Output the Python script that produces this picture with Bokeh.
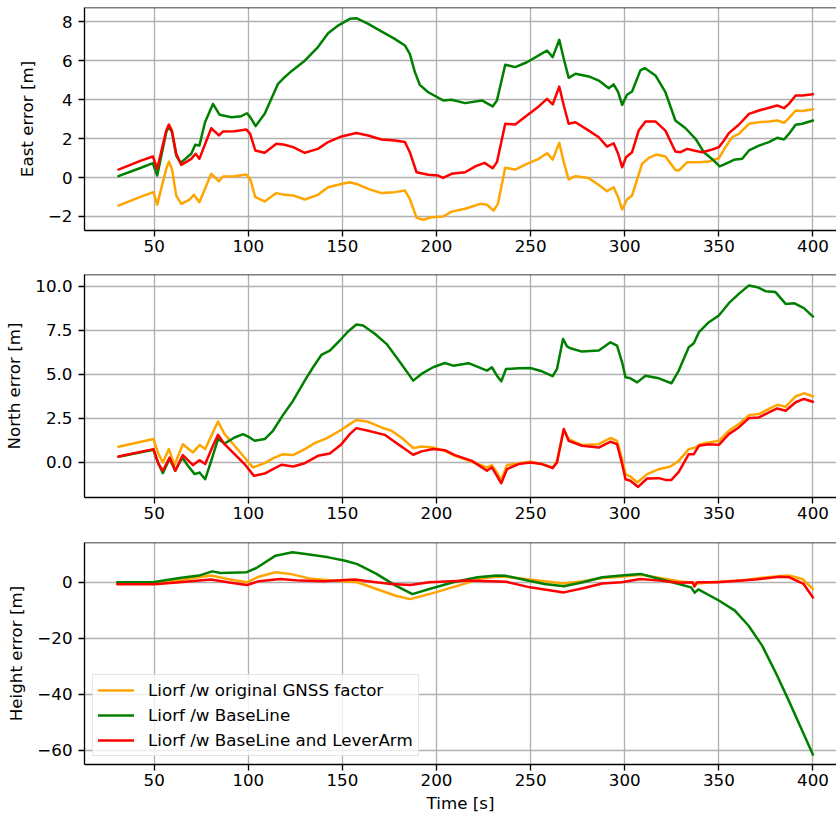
from bokeh.plotting import figure
from bokeh.layouts import column
from bokeh.models import Range1d, FixedTicker, Span, Legend, LegendItem, NumeralTickFormatter
from bokeh.embed import file_html
from bokeh.resources import INLINE

# ---------------- data ----------------
x_ticks = [50, 100, 150, 200, 250, 300, 350, 400]
series_labels = ["Liorf /w original GNSS factor", "Liorf /w BaseLine", "Liorf /w BaseLine and LeverArm"]
series_colors = ["#ffa500", "#008000", "#ff0000"]

# East error
east_orig_t = [31, 43, 49.6, 51.6, 56.4, 57.8, 59.4, 61.7, 64.4, 68.8,
               71.1, 74, 80.3, 84.4, 86.5, 92.7, 98.9, 101, 103.7, 108.7,
               114.9, 119.3, 123.8, 130, 137, 142.4, 149.5, 153.9, 157.4, 163.7,
               170.7, 177.8, 183.2, 185.8, 189.4, 192.9, 197.3, 203.5, 208, 215.2,
               223.2, 226.8, 230.3, 232.6, 236.5, 241.8, 248, 254.3, 258.7, 261.7,
               265.2, 267.6, 270.2, 273.8, 280.9, 286.2, 290.6, 294.1, 296.5, 298.6,
               301.2, 303.9, 309.2, 312.8, 316.7, 321.6, 326.9, 328.7, 333.2, 339.4,
               344.7, 350, 353.5, 357.1, 360.6, 366, 371.3, 376.6, 381, 384.6,
               387.2, 390.8, 394.3, 400]
east_orig = [-1.44, -0.98, -0.75, -1.39, 0.45, 0.82, 0.45, -0.93, -1.35, -1.13,
             -0.89, -1.27, 0.19, -0.19, 0.05, 0.07, 0.15, -0.07, -1.01, -1.23,
             -0.80, -0.89, -0.92, -1.13, -0.89, -0.50, -0.33, -0.24, -0.33, -0.58,
             -0.80, -0.75, -0.67, -1.10, -2.07, -2.17, -2.04, -2.00, -1.75, -1.60,
             -1.35, -1.40, -1.70, -1.35, 0.50, 0.41, 0.70, 0.96, 1.25, 0.92,
             1.78, 0.79, -0.10, 0.07, -0.03, -0.38, -0.70, -0.50, -1.01, -1.64,
             -1.13, -0.92, 0.70, 1.01, 1.18, 1.08, 0.39, 0.36, 0.79, 0.79,
             0.82, 0.99, 1.56, 2.07, 2.24, 2.76, 2.84, 2.88, 2.93, 2.81,
             3.05, 3.44, 3.42, 3.51]

east_base_t = [31, 43, 49.3, 51.6, 56.4, 57.8, 59.4, 61.7, 64, 69.7,
               71.8, 74, 77, 81.2, 84.8, 91, 96.3, 99.3, 101, 103.9,
               108.7, 115.8, 119.3, 122.9, 130, 137, 142.4, 147.7, 153.9, 157.4,
               163.7, 170.7, 177.8, 183.2, 185.8, 188.5, 191.1, 195.6, 203.5, 208,
               215.2, 224.1, 229.8, 232.1, 236.5, 241.8, 248, 254.3, 258.7, 261.7,
               265.2, 267.6, 270.2, 273.8, 280.9, 286.2, 291.5, 294.1, 296.5, 298.6,
               301.2, 303.9, 308.3, 310.6, 316.3, 321.6, 326.9, 332.3, 337.6, 342,
               347.3, 350.4, 353.5, 358, 362.4, 366, 371.3, 376.6, 381, 384.6,
               387.2, 390.8, 394.3, 400]
east_base = [0.07, 0.50, 0.74, 0.10, 2.33, 2.64, 2.33, 1.13, 0.75, 1.22,
             1.68, 1.64, 2.84, 3.78, 3.22, 3.10, 3.15, 3.30, 3.10, 2.64,
             3.27, 4.81, 5.15, 5.46, 6.00, 6.70, 7.41, 7.80, 8.15, 8.18,
             7.89, 7.50, 7.12, 6.78, 6.35, 5.41, 4.76, 4.38, 3.96, 3.99,
             3.82, 3.96, 3.65, 3.96, 5.79, 5.67, 5.92, 6.27, 6.52, 6.18,
             7.07, 6.10, 5.12, 5.33, 5.19, 4.98, 4.59, 4.78, 4.38, 3.73,
             4.25, 4.42, 5.50, 5.62, 5.24, 4.38, 2.93, 2.53, 1.99, 1.30,
             0.87, 0.57, 0.70, 0.91, 0.96, 1.39, 1.64, 1.82, 2.04, 1.95,
             2.24, 2.71, 2.76, 2.93]

east_lever_t = [31, 43, 49.3, 51.6, 56.4, 57.8, 59.4, 61.7, 64.4, 69.7,
                72, 74, 80.3, 84.4, 86.5, 92.7, 98.9, 101, 103.7, 108.7,
                114.9, 119.3, 123.8, 130, 137, 142.4, 149.5, 157.4, 163.7, 170.7,
                177.8, 183.2, 185.8, 189.4, 195.6, 200.9, 203.5, 208, 215.2, 220.6,
                225.5, 229.8, 232.1, 236.5, 241.8, 248, 254.3, 258.7, 261.7, 265.2,
                267.6, 270.2, 273.8, 280.9, 286.2, 290.6, 294.1, 296.5, 298.6, 300.7,
                303.9, 307.4, 311, 316.3, 321.6, 326.9, 329.6, 333.2, 336.7, 341.1,
                346.5, 350, 352.7, 355.3, 360.6, 366, 371.3, 376.6, 381, 384.6,
                387.2, 390.8, 394.3, 400]
east_lever = [0.41, 0.87, 1.08, 0.45, 2.41, 2.72, 2.41, 1.22, 0.65, 0.96,
              1.22, 0.96, 2.53, 2.16, 2.36, 2.38, 2.47, 2.24, 1.39, 1.27,
              1.73, 1.68, 1.56, 1.27, 1.47, 1.82, 2.11, 2.29, 2.16, 1.95,
              1.90, 1.82, 1.30, 0.27, 0.14, 0.10, -0.02, 0.19, 0.27, 0.57,
              0.75, 0.48, 0.79, 2.76, 2.72, 3.18, 3.65, 4.04, 3.75, 4.67,
              3.70, 2.76, 2.84, 2.41, 2.07, 1.59, 1.76, 1.22, 0.53, 1.04,
              1.30, 2.41, 2.88, 2.88, 2.41, 1.34, 1.30, 1.47, 1.39, 1.30,
              1.44, 1.56, 1.90, 2.28, 2.71, 3.27, 3.44, 3.58, 3.70, 3.56,
              3.78, 4.21, 4.21, 4.28]

# North error
north_orig_t = [31, 49.6, 52.3, 54.6, 57.8, 60.8, 65.2, 70.6, 74.1, 77.1,
                81.2, 83.9, 87.4, 92.7, 98, 102.5, 108.7, 113.1, 118.4, 123.8,
                130, 135.3, 141.5, 149.5, 153.9, 157.4, 163.7, 170.7, 176.1, 182.3,
                187.6, 192, 198.2, 204.4, 209.8, 218.8, 226.8, 229.4, 232.1, 234.4,
                237.4, 243.6, 249.8, 256, 261.7, 264, 267.6, 270.2, 277.3, 286.2,
                292.4, 295.9, 298.6, 300.4, 303, 306.6, 311.9, 318.1, 324.3, 328.7,
                334, 337.6, 340.2, 344.7, 350, 355.3, 360.6, 366, 371.3, 376.6,
                381, 385.5, 390.8, 395.2, 400]
north_orig = [0.89, 1.33, 0.47, 0.00, 0.76, -0.15, 1.04, 0.57, 0.99, 0.76,
              1.71, 2.33, 1.61, 0.95, 0.28, -0.28, -0.04, 0.23, 0.47, 0.42,
              0.76, 1.10, 1.37, 1.86, 2.18, 2.41, 2.31, 1.99, 1.80, 1.33,
              0.82, 0.91, 0.85, 0.66, 0.38, 0.04, -0.28, -0.15, -0.57, -0.99,
              -0.15, -0.04, 0.04, -0.09, -0.28, 0.09, 1.86, 1.33, 0.99, 1.04,
              1.39, 1.23, 0.19, -0.66, -0.80, -1.14, -0.66, -0.38, -0.23, 0.09,
              0.76, 0.85, 1.04, 1.14, 1.23, 1.80, 2.18, 2.69, 2.75, 3.04,
              3.28, 3.17, 3.76, 3.93, 3.76]

north_base_t = [31, 49.6, 52, 54.6, 58.2, 61.2, 64.9, 67.9, 71.5, 74.1,
                77.1, 80.3, 83.9, 87.4, 92.7, 97.2, 100.7, 103.4, 108.7, 113.1,
                118.4, 123.8, 130, 134.4, 138.8, 143.3, 148.6, 153, 157.4, 161,
                167.2, 173.4, 178.7, 183.2, 187.6, 192, 198.2, 204.4, 208.9, 217,
                226.8, 229.4, 232.1, 234.4, 236.9, 243.6, 249.8, 256, 261.7, 264,
                267.2, 269.3, 271.1, 277.3, 286.2, 292.4, 295.9, 298.6, 300.4, 303,
                306.6, 311, 318.1, 324.8, 328.7, 334, 336.7, 339.4, 344.7, 350,
                355.3, 360.6, 366, 370.4, 374.8, 380.1, 385.5, 389.9, 395.2, 400]
north_base = [0.32, 0.72, 0.00, -0.61, 0.23, -0.47, 0.28, -0.19, -0.66, -0.57,
              -0.95, 0.09, 1.33, 1.08, 1.42, 1.61, 1.42, 1.23, 1.33, 1.80,
              2.69, 3.51, 4.65, 5.41, 6.11, 6.36, 6.93, 7.44, 7.84, 7.78,
              7.31, 6.74, 5.98, 5.31, 4.65, 5.03, 5.41, 5.65, 5.50, 5.64,
              5.22, 5.41, 4.93, 4.61, 5.31, 5.35, 5.37, 5.18, 4.90, 5.31,
              7.02, 6.60, 6.49, 6.30, 6.36, 6.83, 6.64, 5.69, 4.84, 4.78,
              4.55, 4.93, 4.78, 4.50, 5.22, 6.55, 6.77, 7.40, 7.97, 8.35,
              9.05, 9.58, 10.06, 9.96, 9.73, 9.68, 9.01, 9.05, 8.77, 8.29]

north_lever_t = [31, 49.6, 52.3, 54.6, 58.2, 61.2, 65.2, 70.6, 74.1, 77.1,
                 81.2, 83.9, 87.4, 92.7, 98, 103, 108.7, 113.1, 117.6, 123.8,
                 130, 137, 143.3, 149.5, 153.9, 157.4, 163.7, 172.5, 179.6, 187.6,
                 192, 198.2, 204.4, 209.8, 218.8, 226.8, 229.4, 232.1, 234.4, 237.4,
                 243.6, 249.8, 256, 261.7, 264, 267.6, 270.2, 277.3, 286.2, 292.4,
                 295.9, 298.6, 300.4, 303, 307.1, 311.9, 318.1, 321.6, 324.8, 328.7,
                 334, 336.7, 339.4, 344.7, 350, 355.3, 360.6, 366, 371.3, 376.6,
                 381, 385.5, 390.8, 395.2, 400]
north_lever = [0.34, 0.76, -0.09, -0.47, 0.28, -0.47, 0.42, -0.15, 0.13, -0.09,
               0.95, 1.57, 1.04, 0.47, -0.09, -0.76, -0.63, -0.38, -0.13, -0.23,
               -0.04, 0.38, 0.51, 1.04, 1.61, 1.95, 1.80, 1.57, 1.04, 0.44,
               0.63, 0.76, 0.70, 0.42, 0.09, -0.47, -0.28, -0.76, -1.18, -0.38,
               -0.09, 0.00, -0.09, -0.32, 0.00, 1.90, 1.23, 0.95, 0.85, 1.18,
               1.04, -0.09, -0.95, -1.04, -1.39, -0.91, -0.89, -0.99, -0.99, -0.53,
               0.47, 0.47, 0.95, 1.04, 1.00, 1.61, 1.99, 2.52, 2.56, 2.85,
               3.07, 2.94, 3.42, 3.61, 3.45]

# Height error
height_orig_t = [30.4, 50, 63.5, 80.1, 89, 99.2, 105.6, 114.5, 122.2, 132.4,
                 145.2, 157.9, 168.1, 178.3, 186, 196.2, 211.5, 224.2, 234.4, 247.2,
                 257.4, 267.6, 277.8, 288, 298.2, 308.4, 318.6, 328.8, 339, 349.2,
                 362, 369.6, 380, 387.2, 394.3, 400]
height_orig = [-0.4, -0.4, 0.8, 2.4, 1.2, 0.0, 2.0, 3.6, 3.0, 1.4,
               0.6, 0.0, -2.4, -4.8, -6.0, -4.2, -1.2, 1.4, 2.1, 1.2,
               0.4, -0.4, 0.4, 1.5, 2.0, 2.7, 1.5, 0.4, -0.4, 0.2,
               0.6, 1.4, 2.1, 2.4, 1.2, -2.4]

height_base_t = [30.4, 50, 63.5, 73.7, 80.9, 85.2, 99.2, 104.3, 114.5, 123.5,
                 132.4, 142.6, 151.5, 157.9, 168.1, 178.3, 187.2, 196.2, 208.9, 221.7,
                 231.9, 237, 247.2, 257.4, 267.6, 277.8, 288, 298.2, 308.4, 318.6,
                 328.8, 335.2, 337.2, 339.1, 350, 358.5, 365.8, 373, 380.1, 387.2,
                 394.3, 400]
height_base = [0.0, 0.1, 1.5, 2.4, 3.9, 3.3, 3.6, 5.1, 9.5, 10.7,
               9.9, 8.9, 7.7, 6.5, 3.0, -1.2, -4.2, -2.4, 0.0, 1.8,
               2.4, 2.3, 0.8, -0.6, -1.4, 0.0, 1.8, 2.4, 3.0, 1.2,
               -0.6, -1.8, -3.7, -2.5, -6.5, -10.1, -15.5, -22.6, -32.1, -42.3,
               -53.0, -61.5]

height_lever_t = [30.4, 50, 63.5, 80.1, 89, 99.2, 105.6, 117, 127.3, 140,
                  156.6, 165.6, 175.8, 186, 196.2, 216.6, 237, 249.7, 267.6, 277.8,
                  288, 298.2, 308.4, 318.6, 328.8, 336, 337, 338.5, 349.2, 369.6,
                  382.4, 387.5, 395, 400]
height_lever = [-0.7, -0.7, 0.0, 1.0, 0.0, -1.0, 0.4, 1.2, 0.6, 0.4,
                1.0, 0.2, -0.6, -1.0, 0.0, 0.6, 0.2, -1.8, -3.6, -2.1,
                -0.4, 0.0, 1.2, 0.6, -0.2, 0.0, -1.5, 0.0, 0.0, 1.0,
                2.0, 1.8, -0.6, -5.4]

east_ticks = [-2, 0, 2, 4, 6, 8]
north_ticks = [0, 2.5, 5, 7.5, 10]
height_ticks = [-60, -40, -20, 0]

# ---------------- styling ----------------
FONT = "DejaVu Sans"
FS = "16.7px"
SPINE = 1.33
FIG_W = 836


def make_fig(height, b_top, b_bottom, y0, y1, yticks, ylabel):
    p = figure(width=FIG_W, height=height, output_backend="svg", toolbar_location=None,
               x_range=Range1d(12.97, 412.5), y_range=Range1d(y0, y1),
               min_border_left=84, min_border_right=0,
               min_border_top=b_top, min_border_bottom=b_bottom)
    p.outline_line_color = None
    p.background_fill_color = "white"
    p.border_fill_color = "white"
    for ax in (p.xaxis[0], p.yaxis[0]):
        ax.axis_line_color = "black"
        ax.axis_line_width = SPINE
        ax.major_tick_line_color = "black"
        ax.major_tick_line_width = SPINE
        ax.major_tick_out = 6
        ax.major_tick_in = 0
        ax.minor_tick_line_color = None
        ax.major_label_text_font = FONT
        ax.major_label_text_font_size = FS
        ax.major_label_text_color = "black"
        ax.axis_label_text_font = FONT
        ax.axis_label_text_font_size = FS
        ax.axis_label_text_font_style = "normal"
        ax.axis_label_text_color = "black"
    p.xaxis[0].ticker = FixedTicker(ticks=x_ticks)
    p.xaxis[0].major_label_standoff = 3
    p.yaxis[0].ticker = FixedTicker(ticks=yticks)
    p.yaxis[0].major_label_standoff = 6
    p.yaxis[0].axis_label = ylabel
    p.yaxis[0].axis_label_standoff = 8
    p.grid.grid_line_color = "#b0b0b0"
    p.grid.grid_line_width = SPINE
    p.add_layout(Span(location=y1, dimension="width", line_color="black", line_width=SPINE))
    return p


p1 = make_fig(262, 7, 32, -2.72, 8.73, east_ticks, "East error [m]")
p1.yaxis[0].major_label_overrides = {-2: "\u22122"}
p2 = make_fig(270, 12, 35, -1.99, 10.68, north_ticks, "North error [m]")
p2.yaxis[0].formatter = NumeralTickFormatter(format="0.0")
p3 = make_fig(284, 10, 52, -65.0, 14.2, height_ticks, "Height error [m]")
p3.yaxis[0].major_label_overrides = {-20: "\u221220", -40: "\u221240", -60: "\u221260"}
p3.xaxis[0].axis_label = "Time [s]"
p3.xaxis[0].axis_label_standoff = 4
p3.xaxis[0].major_label_standoff = 3

LW = 2.5
panels = [
    (p1, [(east_orig_t, east_orig), (east_base_t, east_base), (east_lever_t, east_lever)]),
    (p2, [(north_orig_t, north_orig), (north_base_t, north_base), (north_lever_t, north_lever)]),
    (p3, [(height_orig_t, height_orig), (height_base_t, height_base), (height_lever_t, height_lever)]),
]
legend_renderers = []
for p, data in panels:
    rs = []
    for (tt, vv), col in zip(data, series_colors):
        r = p.line(tt, vv, line_color=col, line_width=LW, line_join="round", line_cap="round")
        rs.append(r)
    legend_renderers = rs

legend = Legend(items=[LegendItem(label=lab, renderers=[r]) for lab, r in zip(series_labels, legend_renderers)],
                location="bottom_left")
legend.label_text_font = FONT
legend.label_text_font_size = FS
legend.label_text_color = "black"
legend.glyph_width = 36
legend.glyph_height = 20
legend.label_height = 20
legend.spacing = 5
legend.padding = 5
legend.margin = 8
legend.label_standoff = 14
legend.border_line_color = "#cccccc"
legend.border_line_width = SPINE
legend.background_fill_color = "white"
legend.background_fill_alpha = 0.8
p3.add_layout(legend)

layout = column(p1, p2, p3, spacing=0)
open("out.html", "w").write(file_html(layout, INLINE))
